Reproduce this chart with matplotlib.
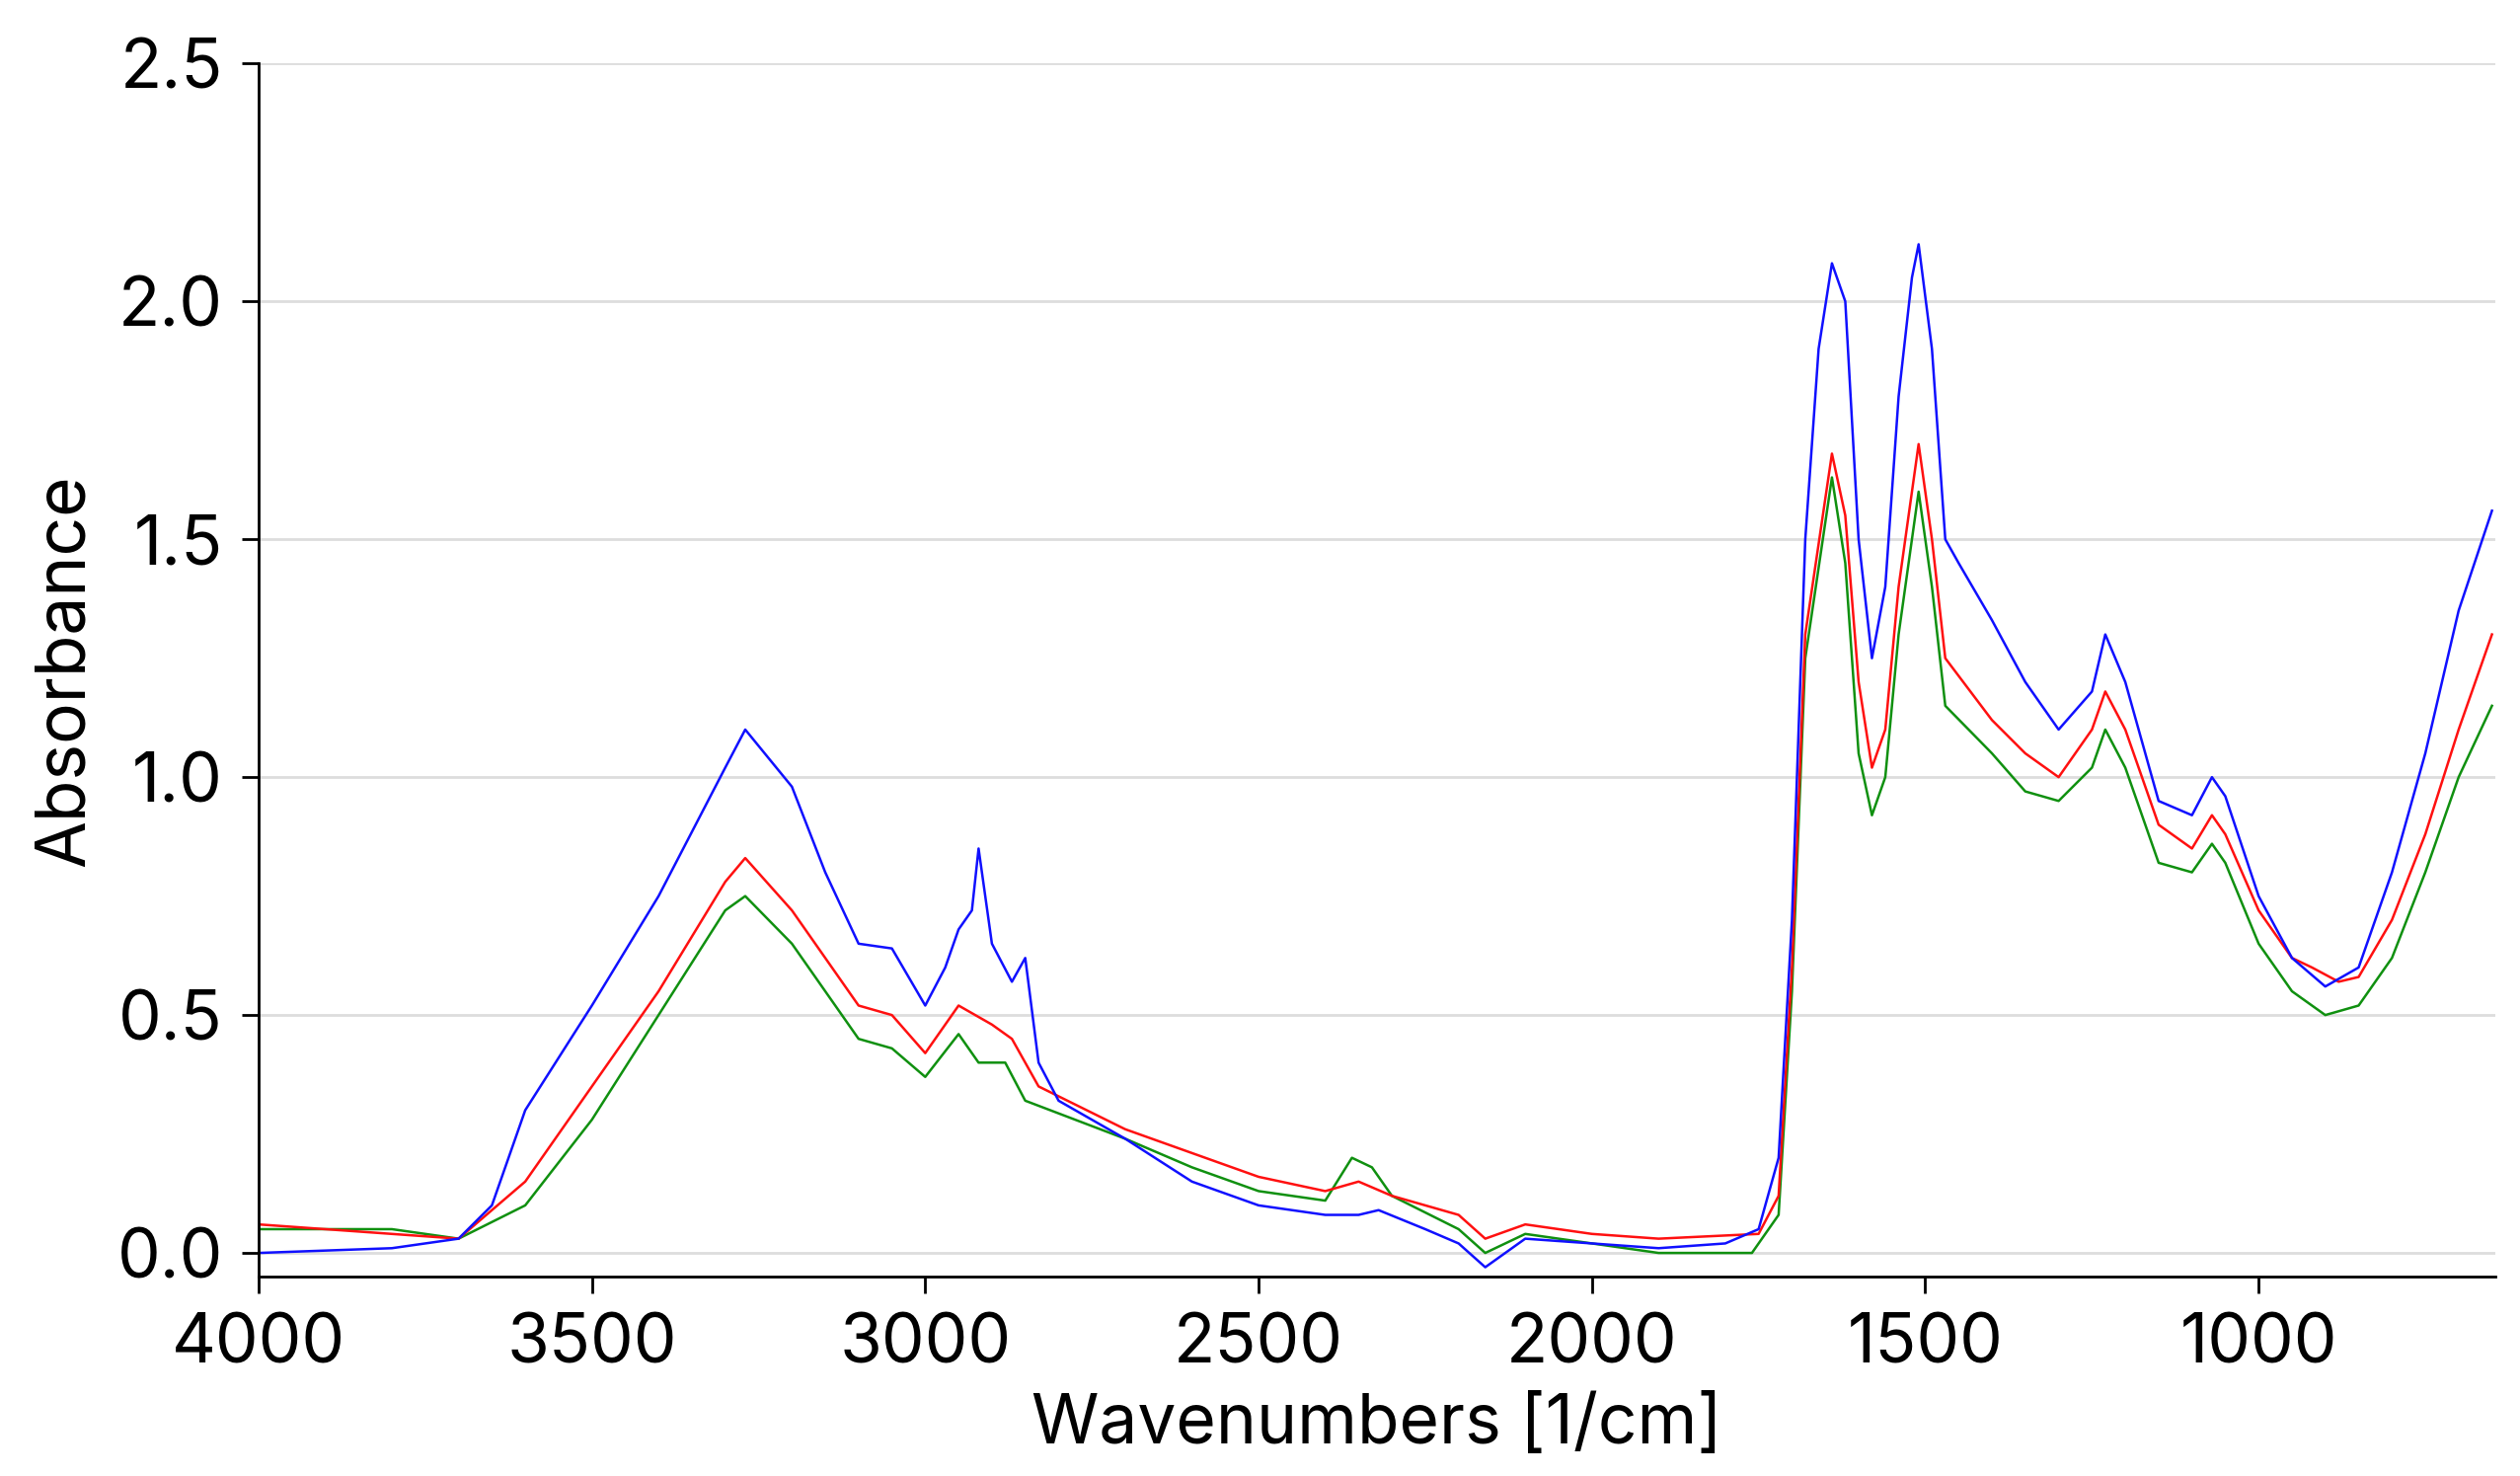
import matplotlib
matplotlib.use("Agg")
import matplotlib.pyplot as plt

blue_x = [4000,3800,3700,3650,3600,3500,3400,3300,3270,3200,3150,3100,3050,3000,2970,2950,2930,2920,2900,2870,2850,2830,2800,2700,2600,2500,2400,2350,2320,2250,2200,2160,2100,2000,1900,1800,1750,1720,1700,1680,1660,1640,1620,1600,1580,1560,1540,1520,1510,1490,1470,1450,1400,1350,1300,1250,1230,1200,1150,1100,1070,1050,1000,950,900,850,800,750,700,650]
blue_y = [0.0,0.01,0.03,0.10,0.30,0.52,0.75,1.02,1.10,0.98,0.80,0.65,0.64,0.52,0.60,0.68,0.72,0.85,0.65,0.57,0.62,0.40,0.32,0.24,0.15,0.10,0.08,0.08,0.09,0.05,0.02,-0.03,0.03,0.02,0.01,0.02,0.05,0.20,0.70,1.50,1.90,2.08,2.00,1.50,1.25,1.40,1.80,2.05,2.12,1.90,1.50,1.45,1.33,1.20,1.10,1.18,1.30,1.20,0.95,0.92,1.00,0.96,0.75,0.62,0.56,0.60,0.80,1.05,1.35,1.56]
red_x = [4000,3800,3700,3600,3500,3400,3300,3270,3200,3100,3050,3000,2950,2900,2870,2830,2700,2600,2500,2400,2350,2300,2200,2160,2100,2000,1900,1750,1720,1700,1680,1640,1620,1600,1580,1560,1540,1510,1490,1470,1400,1350,1300,1250,1230,1200,1150,1100,1070,1050,1000,950,920,880,850,800,750,700,650]
red_y = [0.06,0.04,0.03,0.15,0.35,0.55,0.78,0.83,0.72,0.52,0.50,0.42,0.52,0.48,0.45,0.35,0.26,0.21,0.16,0.13,0.15,0.12,0.08,0.03,0.06,0.04,0.03,0.04,0.12,0.60,1.30,1.68,1.55,1.20,1.02,1.10,1.40,1.70,1.50,1.25,1.12,1.05,1.00,1.10,1.18,1.10,0.90,0.85,0.92,0.88,0.72,0.62,0.60,0.57,0.58,0.70,0.88,1.10,1.30]
green_x = [4000,3800,3700,3600,3500,3400,3300,3270,3200,3100,3050,3000,2950,2920,2880,2850,2700,2600,2500,2400,2360,2330,2300,2200,2160,2100,2000,1900,1760,1720,1700,1680,1640,1620,1600,1580,1560,1540,1510,1490,1470,1400,1350,1300,1250,1230,1200,1150,1100,1070,1050,1000,950,900,850,800,750,700,650]
green_y = [0.05,0.05,0.03,0.10,0.28,0.50,0.72,0.75,0.65,0.45,0.43,0.37,0.46,0.40,0.40,0.32,0.24,0.18,0.13,0.11,0.20,0.18,0.12,0.05,0.00,0.04,0.02,0.00,0.00,0.08,0.55,1.25,1.63,1.45,1.05,0.92,1.00,1.30,1.60,1.40,1.15,1.05,0.97,0.95,1.02,1.10,1.02,0.82,0.80,0.86,0.82,0.65,0.55,0.50,0.52,0.62,0.80,1.00,1.15]

plt.rcParams['font.family'] = ['Inter', 'DejaVu Sans']
fig = plt.figure(figsize=(25.53, 14.95), dpi=100)
ax = fig.add_axes([0.1026, 0.135, 0.8876, 0.822])
ax.plot(green_x, green_y, color='#109010', lw=1.8)
ax.plot(red_x, red_y, color='#ff1010', lw=1.8)
ax.plot(blue_x, blue_y, color='#1010ff', lw=1.8)
ax.set_xlim(4000, 645)
ax.set_ylim(-0.05, 2.5)
ax.set_xticks([4000, 3500, 3000, 2500, 2000, 1500, 1000])
ax.set_yticks([0.0, 0.5, 1.0, 1.5, 2.0, 2.5])
ax.set_yticklabels(['0.0', '0.5', '1.0', '1.5', '2.0', '2.5'])
ax.yaxis.grid(True, color='#dddddd', lw=2)
ax.set_axisbelow(True)
for s in ['top', 'right']:
    ax.spines[s].set_visible(False)
for s in ['left', 'bottom']:
    ax.spines[s].set_linewidth(2)
ax.tick_params(labelsize=50, width=2, length=12, pad=14)
ax.set_xlabel('Wavenumbers [1/cm]', fontsize=50, labelpad=12)
ax.set_ylabel('Absorbance', fontsize=50, labelpad=14)
fig.savefig('out.png', dpi=100)
